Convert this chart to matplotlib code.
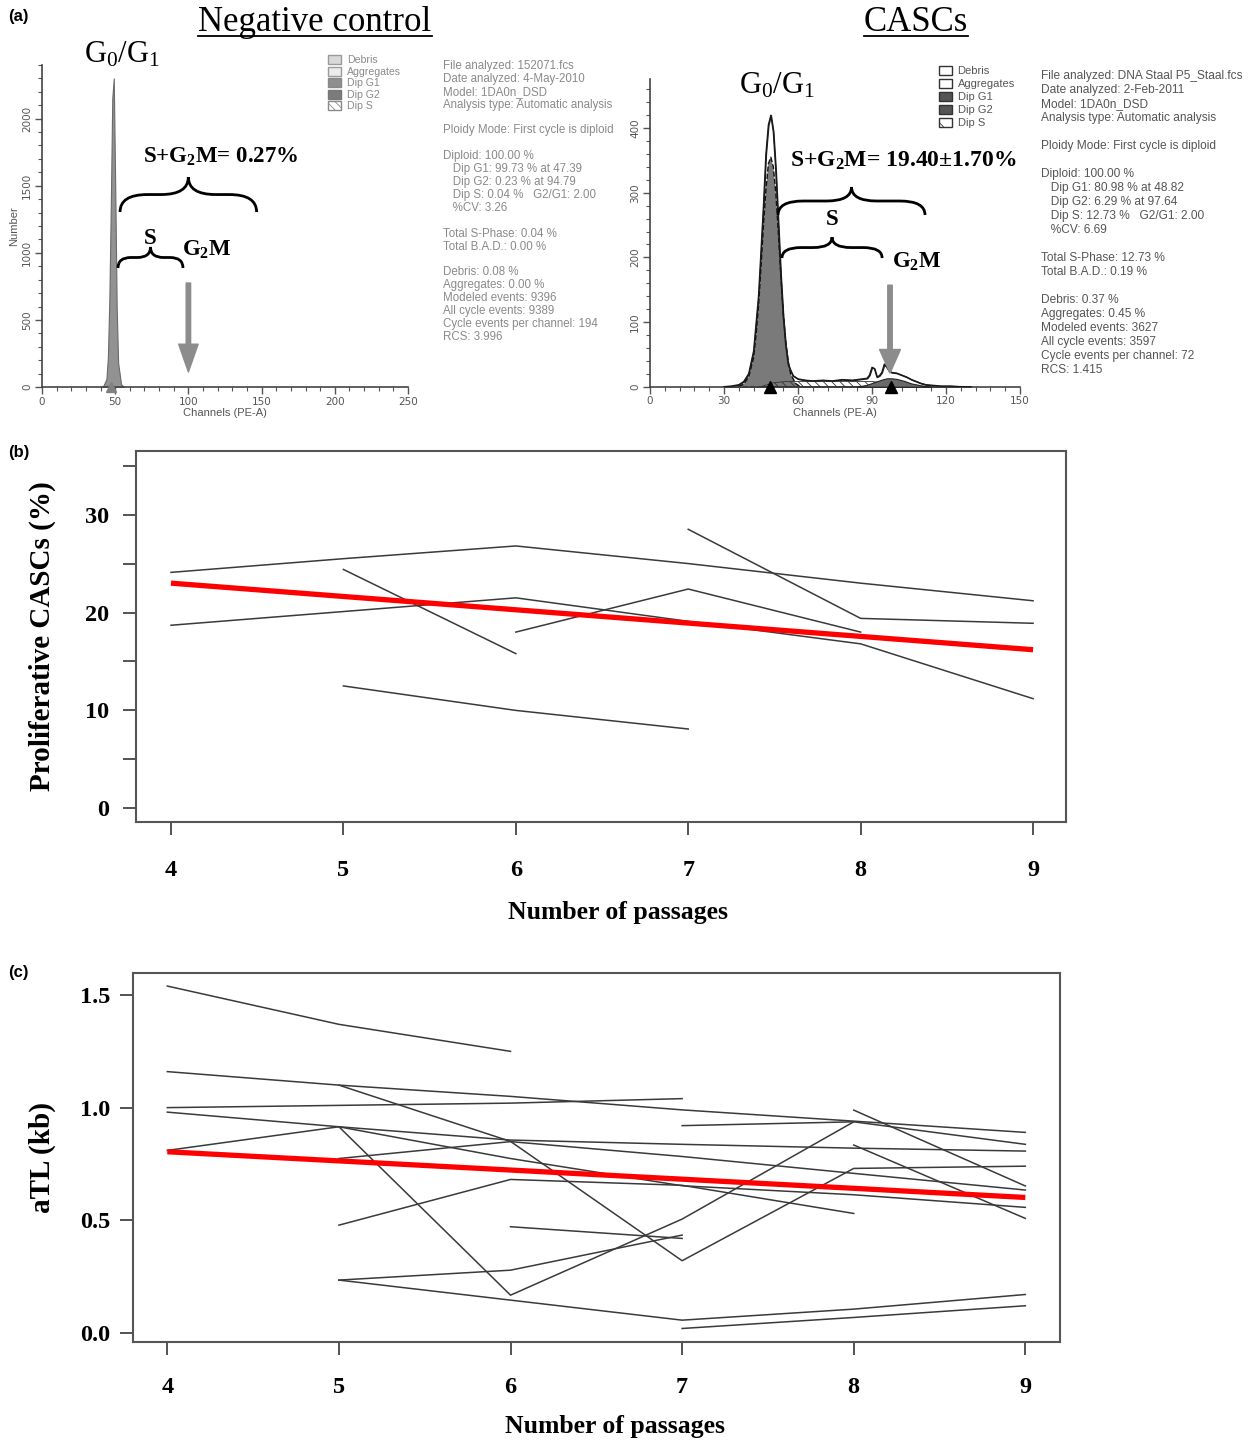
import numpy as np
import matplotlib
matplotlib.use("Agg")
import matplotlib.pyplot as plt
from matplotlib.patches import Patch, PathPatch
from matplotlib.path import Path
from matplotlib.transforms import IdentityTransform
from matplotlib.lines import Line2D
from matplotlib.ticker import MultipleLocator

plt.rcParams['mathtext.fontset'] = 'custom'
plt.rcParams['mathtext.rm'] = 'Liberation Serif'
plt.rcParams['mathtext.it'] = 'Liberation Serif:italic'
plt.rcParams['mathtext.bf'] = 'Liberation Serif:bold'
plt.rcParams['hatch.linewidth'] = 0.6

nan = np.nan
W, H = 1250, 1441

# ---------------- data ----------------
# (a) negative control histogram (channel, number)
neg_ch = [40, 42, 44, 45, 46, 47, 48, 49, 50, 51, 52, 54, 56]
neg_count = [0, 10, 60, 220, 650, 1350, 2150, 2300, 1500, 600, 180, 20, 0]

# (a) CASCs histogram
casc_ch = [30, 33, 36, 38, 40, 42, 44, 46, 47, 48, 49, 50, 51, 52, 53, 54, 55, 56, 57, 58,
           60, 63, 66, 70, 74, 78, 82, 86, 88, 89, 90, 91, 92, 93, 94, 95, 96, 97, 98, 100,
           102, 104, 106, 108, 110, 112, 115, 118, 122, 126, 130]
casc_env = [0, 1, 3, 8, 20, 55, 140, 280, 360, 405, 420, 395, 335, 255, 175, 110, 65, 35, 25, 17,
            12, 10, 9, 10, 9, 11, 10, 12, 13, 18, 30, 28, 15, 17, 22, 35, 30, 24, 22, 21,
            18, 15, 11, 8, 5, 3, 2, 1, 1, 0, 0]
g1_ch = [36, 38, 40, 42, 43, 44, 45, 46, 47, 48, 49, 50, 51, 52, 53, 54, 55, 56, 57, 59, 61]
g1_count = [0, 4, 15, 45, 80, 125, 185, 250, 305, 345, 355, 340, 300, 240, 175, 115, 70, 40, 20, 5, 0]
g2_ch = [84, 88, 91, 94, 96, 98, 100, 103, 106, 110, 114]
g2_count = [0, 3, 7, 11, 13, 13, 12, 9, 5, 2, 0]
s_ch = [45, 50, 55, 60, 70, 80, 90, 95, 100]
s_count = [0, 6, 8, 8, 8, 8, 8, 6, 0]

legend_labels = ['Debris', 'Aggregates', 'Dip G1', 'Dip G2', 'Dip S']

neg_info = ["File analyzed: 152071.fcs", "Date analyzed: 4-May-2010", "Model: 1DA0n_DSD",
            "Analysis type: Automatic analysis", "", "Ploidy Mode: First cycle is diploid", "",
            "Diploid: 100.00 %", "   Dip G1: 99.73 % at 47.39", "   Dip G2: 0.23 % at 94.79",
            "   Dip S: 0.04 %   G2/G1: 2.00", "   %CV: 3.26", "", "Total S-Phase: 0.04 %",
            "Total B.A.D.: 0.00 %", "", "Debris: 0.08 %", "Aggregates: 0.00 %",
            "Modeled events: 9396", "All cycle events: 9389", "Cycle events per channel: 194",
            "RCS: 3.996"]
casc_info = ["File analyzed: DNA Staal P5_Staal.fcs", "Date analyzed: 2-Feb-2011", "Model: 1DA0n_DSD",
             "Analysis type: Automatic analysis", "", "Ploidy Mode: First cycle is diploid", "",
             "Diploid: 100.00 %", "   Dip G1: 80.98 % at 48.82", "   Dip G2: 6.29 % at 97.64",
             "   Dip S: 12.73 %   G2/G1: 2.00", "   %CV: 6.69", "", "Total S-Phase: 12.73 %",
             "Total B.A.D.: 0.19 %", "", "Debris: 0.37 %", "Aggregates: 0.45 %",
             "Modeled events: 3627", "All cycle events: 3597", "Cycle events per channel: 72",
             "RCS: 1.415"]

# (b) proliferative CASCs (%) per passage
passages = [4, 5, 6, 7, 8, 9]
prolif_lines = [
    [24.1, 25.5, 26.8, 25.0, 23.0, 21.2],
    [18.7, 20.1, 21.5, 19.1, 16.8, 11.2],
    [nan, nan, 18.0, 22.4, 18.0, nan],
    [nan, 24.4, 15.8, nan, nan, nan],
    [nan, nan, nan, 28.5, 19.4, 18.9],
    [nan, 12.5, 10.0, 8.1, nan, nan],
]
prolif_trend_x = [4, 9]
prolif_trend = [23.0, 16.2]

# (c) aTL (kb) per passage
atl_lines = [
    [1.54, 1.37, 1.25, nan, nan, nan],
    [1.16, 1.10, 1.05, 0.99, 0.94, 0.89],
    [1.00, 1.01, 1.02, 1.04, nan, nan],
    [nan, 1.10, 0.85, 0.32, 0.73, 0.74],
    [0.98, 0.915, 0.856, 0.837, 0.82, 0.807],
    [0.81, 0.915, 0.167, 0.505, 0.937, nan],
    [nan, 0.478, 0.681, 0.655, 0.53, nan],
    [nan, nan, 0.471, 0.419, nan, nan],
    [nan, 0.774, 0.849, 0.783, 0.708, 0.634],
    [nan, 0.234, 0.278, 0.434, nan, nan],
    [nan, 0.234, 0.145, 0.056, 0.105, 0.170],
    [nan, 0.915, 0.774, 0.653, 0.613, 0.557],
    [nan, nan, nan, 0.92, 0.937, 0.837],
    [nan, nan, nan, 0.019, 0.068, 0.12],
    [nan, nan, nan, nan, 0.989, 0.652],
    [nan, nan, nan, nan, 0.834, 0.508],
]
atl_trend_x = [4, 9]
atl_trend = [0.804, 0.601]

# ---------------- helpers ----------------
def fr(x0, y_top, w, h):
    return [x0 / W, 1 - (y_top + h) / H, w / W, h / H]

def fx(x):
    return x / W

def fy(y):
    return 1 - y / H

def brace(fig, ax, c0, c1, count, h, lw=2.0):
    x0, yb = ax.transData.transform((c0, count))
    x1, _ = ax.transData.transform((c1, count))
    xm = (x0 + x1) / 2
    ym = yb + h / 2
    yt = yb + h
    r = min(h * 0.9, (x1 - x0) / 5)
    verts = [(x0, yb), (x0, ym), (x0 + r, ym),
             (xm - r, ym),
             (xm, ym), (xm, yt),
             (xm, ym), (xm + r, ym),
             (x1 - r, ym),
             (x1, ym), (x1, yb)]
    codes = [Path.MOVETO, Path.CURVE3, Path.CURVE3,
             Path.LINETO,
             Path.CURVE3, Path.CURVE3,
             Path.CURVE3, Path.CURVE3,
             Path.LINETO,
             Path.CURVE3, Path.CURVE3]
    p = PathPatch(Path(verts, codes), facecolor='none', edgecolor='black', lw=lw,
                  transform=IdentityTransform())
    fig.add_artist(p)

def style_hist_axes(ax, xmaj, xmin, ymaj, ymin):
    for s in ['top', 'right']:
        ax.spines[s].set_visible(False)
    for s in ['left', 'bottom']:
        ax.spines[s].set_color('#444444')
        ax.spines[s].set_linewidth(1.2)
    ax.xaxis.set_major_locator(MultipleLocator(xmaj))
    ax.xaxis.set_minor_locator(MultipleLocator(xmin))
    ax.yaxis.set_major_locator(MultipleLocator(ymaj))
    ax.yaxis.set_minor_locator(MultipleLocator(ymin))
    ax.tick_params(which='major', direction='out', length=5, width=1, color='#555555',
                   labelsize=7.5, labelcolor='#555555', pad=2)
    ax.tick_params(which='minor', direction='out', length=3, width=0.8, color='#555555')
    for lbl in ax.get_yticklabels():
        lbl.set_rotation(90)
        lbl.set_va('center')
    ax.set_facecolor('none')

fig = plt.figure(figsize=(W / 100, H / 100), dpi=100)
fig.patch.set_facecolor('white')

serif = 'Liberation Serif'
sans = 'Liberation Sans'

# ---------------- panel (a) left ----------------
axL = fig.add_axes(fr(42, 65, 366, 322))
axL.set_xlim(0, 250)
axL.set_ylim(0, 2400)
axL.fill_between(neg_ch, neg_count, color='#929292', edgecolor='#6a6a6a', lw=0.8)
style_hist_axes(axL, 50, 10, 500, 100)
axL.set_ylabel('Number', fontsize=8, color='#555555', family=sans, labelpad=2)
axL.set_xlabel('Channels (PE-A)', fontsize=8, color='#555555', family=sans, labelpad=1)
axL.plot([47.4], [0], marker='^', ms=7, color='#808080', clip_on=False, zorder=5)
axL.annotate('', xy=(100, 112), xytext=(100, 775),
             arrowprops=dict(facecolor='#8c8c8c', edgecolor='#8c8c8c', width=3.2,
                             headwidth=14, headlength=20, shrink=0))
axL.text(54.6, 2475, r'G$_0$/G$_1$', fontsize=22, family=serif, ha='center', va='center')
axL.text(122.3, 1714, r'S+G$_\mathbf{2}$M= 0.27%', fontsize=16.5, family=serif,
         fontweight='bold', ha='center', va='center')
axL.text(73.8, 1110, 'S', fontsize=16.5, family=serif, fontweight='bold', ha='center', va='center')
axL.text(112.7, 1021, r'G$_\mathbf{2}$M', fontsize=16.5, family=serif, fontweight='bold',
         ha='center', va='center')

handles_l = [Patch(facecolor='#d9d9d9', edgecolor='#9a9a9a'),
             Patch(facecolor='#ececec', edgecolor='#9a9a9a'),
             Patch(facecolor='#8f8f8f', edgecolor='#888888'),
             Patch(facecolor='#7b7b7b', edgecolor='#777777'),
             Patch(facecolor='white', edgecolor='#8a8a8a', hatch='\\\\\\\\')]
fig.legend(handles_l, legend_labels, loc='upper left', bbox_to_anchor=(fx(328), fy(55)),
           frameon=False, labelcolor='#8a8a8a', handlelength=1.23,
           handleheight=0.94, handletextpad=0.6, labelspacing=0.13, borderpad=0,
           borderaxespad=0, prop={'family': sans, 'size': 7.6})

fig.text(fx(443), fy(60), "\n".join(neg_info), fontsize=8.3, family=sans, color='#8a8a8a',
         ha='left', va='top', linespacing=1.1)

# ---------------- panel (a) right ----------------
axR = fig.add_axes(fr(650, 79, 370, 307.7))
axR.set_xlim(0, 150)
axR.set_ylim(0, 476)
axR.fill_between(casc_ch, casc_env, color='white', edgecolor='#1a1a1a', lw=1.0, zorder=1)
axR.fill_between(g1_ch, g1_count, color='#7a7a7a', edgecolor='#111111', lw=1.0,
                 linestyle='--', zorder=2)
axR.fill_between(s_ch, s_count, facecolor='none', edgecolor='#333333', hatch='\\\\\\\\',
                 lw=0.6, zorder=3)
axR.fill_between(g2_ch, g2_count, color='#6a6a6a', edgecolor='#222222', lw=0.8, zorder=3)
axR.plot(casc_ch, casc_env, color='#1a1a1a', lw=1.0, zorder=4)
style_hist_axes(axR, 30, 6, 100, 20)
axR.set_xlabel('Channels (PE-A)', fontsize=8, color='#555555', family=sans, labelpad=1)
axR.plot([48.8, 97.6], [0, 0], ls='none', marker='^', ms=8, color='black', clip_on=False, zorder=6)
axR.annotate('', xy=(97.3, 21), xytext=(97.3, 157),
             arrowprops=dict(facecolor='#8c8c8c', edgecolor='#8c8c8c', width=3.2,
                             headwidth=15, headlength=17, shrink=0), zorder=7)
axR.text(51.5, 465, r'G$_0$/G$_1$', fontsize=22, family=serif, ha='center', va='center')
axR.text(102.6, 350, r'S+G$_\mathbf{2}$M= 19.40±1.70%', fontsize=17, family=serif,
         fontweight='bold', ha='center', va='center')
axR.text(73.8, 258, 'S', fontsize=16.5, family=serif, fontweight='bold', ha='center', va='center')
axR.text(108.2, 193, r'G$_\mathbf{2}$M', fontsize=16.5, family=serif, fontweight='bold',
         ha='center', va='center')

handles_r = [Patch(facecolor='white', edgecolor='#333333'),
             Patch(facecolor='white', edgecolor='#333333'),
             Patch(facecolor='#555555', edgecolor='#333333'),
             Patch(facecolor='#555555', edgecolor='#333333'),
             Patch(facecolor='white', edgecolor='#333333', hatch='\\\\')]
fig.legend(handles_r, legend_labels, loc='upper left', bbox_to_anchor=(fx(939), fy(66)),
           frameon=False, labelcolor='#555555', handlelength=1.17,
           handleheight=0.9, handletextpad=0.5, labelspacing=0.22, borderpad=0,
           borderaxespad=0, prop={'family': sans, 'size': 8})

fig.text(fx(1041), fy(70), "\n".join(casc_info), fontsize=8.6, family=sans, color='#555555',
         ha='left', va='top', linespacing=1.22)

# titles
tNeg = fig.text(fx(315), fy(31), 'Negative control', fontsize=25, family=serif,
                ha='center', va='baseline')
tCas = fig.text(fx(916), fy(31), 'CASCs', fontsize=25, family=serif, ha='center', va='baseline')

for lab, y in [('(a)', 16), ('(b)', 453), ('(c)', 972)]:
    fig.text(fx(8), fy(y), lab, fontsize=12, family=sans, fontweight='bold', ha='left', va='center')

# braces
brace(fig, axL, 53.3, 146.6, 1304, 35)
brace(fig, axL, 51.9, 96.3, 887, 21)
brace(fig, axR, 51.9, 111.5, 265.6, 28)
brace(fig, axR, 53.5, 94.1, 199, 21)

# ---------------- panel (b) ----------------
def style_line_axes(ax):
    for s in ax.spines.values():
        s.set_color('#555555')
        s.set_linewidth(1.5)
    ax.tick_params(direction='out', length=9.4, width=1.3, color='#444444')

axB = fig.add_axes(fr(136, 451, 930, 371))
axB.set_xlim(3.797, 9.191)
axB.set_ylim(-1.4, 36.5)
for ln in prolif_lines:
    axB.plot(passages, ln, color='#3a3a3a', lw=1.1)
axB.plot(prolif_trend_x, prolif_trend, color='#ff0000', lw=3.8, solid_capstyle='butt', zorder=5)
style_line_axes(axB)
axB.set_xticks(passages)
axB.set_xticklabels([str(p) for p in passages], fontsize=17.5, family=serif, fontweight='bold')
axB.set_yticks(range(0, 36, 5))
axB.set_yticklabels([str(v) if v % 10 == 0 else '' for v in range(0, 36, 5)],
                    fontsize=17.5, family=serif, fontweight='bold')
axB.tick_params(axis='x', pad=18)
axB.tick_params(axis='y', pad=10)
axB.set_xlabel('Number of passages', fontsize=18.5, family=serif, fontweight='bold')
axB.xaxis.set_label_coords(0.518, -0.212)
axB.set_ylabel('Proliferative CASCs (%)', fontsize=21, family=serif, fontweight='bold')
axB.yaxis.set_label_coords(-0.086, 0.5)

# ---------------- panel (c) ----------------
axC = fig.add_axes(fr(133, 973, 927, 369))
axC.set_xlim(3.80, 9.202)
axC.set_ylim(-0.041, 1.598)
for ln in atl_lines:
    axC.plot(passages, ln, color='#3a3a3a', lw=1.1)
axC.plot(atl_trend_x, atl_trend, color='#ff0000', lw=3.8, solid_capstyle='butt', zorder=5)
style_line_axes(axC)
axC.set_xticks(passages)
axC.set_xticklabels([str(p) for p in passages], fontsize=17.5, family=serif, fontweight='bold')
axC.set_yticks([0, 0.5, 1.0, 1.5])
axC.set_yticklabels(['0.0', '0.5', '1.0', '1.5'], fontsize=17.5, family=serif, fontweight='bold')
axC.tick_params(axis='x', pad=15.5)
axC.tick_params(axis='y', pad=7)
axC.set_xlabel('Number of passages', fontsize=18.5, family=serif, fontweight='bold')
axC.xaxis.set_label_coords(0.52, -0.197)
axC.set_ylabel('aTL (kb)', fontsize=21, family=serif, fontweight='bold')
axC.yaxis.set_label_coords(-0.083, 0.5)

# underline titles
fig.canvas.draw()
for t in (tNeg, tCas):
    bb = t.get_window_extent()
    yl = H - 36
    fig.add_artist(Line2D([bb.x0, bb.x1], [yl, yl], color='black', lw=1.3,
                          transform=IdentityTransform()))

fig.savefig('out.png', dpi=100, facecolor='white')
